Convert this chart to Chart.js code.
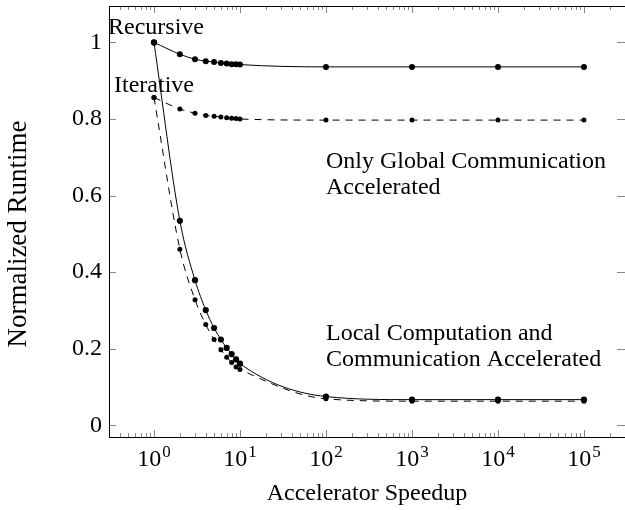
<!DOCTYPE html>
<html><head><meta charset="utf-8">
<script src="https://cdn.jsdelivr.net/npm/chart.js@4"></script>
<style>html,body{margin:0;padding:0;background:#fff}#wrap{width:625px;height:510px;position:relative}
#probe{position:absolute;left:-1000px;top:0;font-family:'Liberation Serif';font-size:24px}</style>
</head><body><span id="probe">Recursive 0.8 10</span><div id="wrap"><canvas id="c" width="625" height="510"></canvas></div>
<script>
const speedups = [1, 2, 3, 4, 5, 6, 7, 8, 9, 10, 100, 1000, 10000, 100000];
const recursiveGlobal = [1.0, 0.969, 0.956, 0.951, 0.949, 0.946, 0.945, 0.943, 0.943, 0.942, 0.936, 0.936, 0.936, 0.936];
const iterativeGlobal = [0.856, 0.826, 0.815, 0.809, 0.807, 0.805, 0.803, 0.802, 0.801, 0.800, 0.797, 0.797, 0.797, 0.797];
const recursiveLocal = [1.0, 0.534, 0.379, 0.301, 0.254, 0.224, 0.202, 0.186, 0.172, 0.161, 0.075, 0.067, 0.067, 0.067];
const iterativeLocal = [0.856, 0.460, 0.328, 0.263, 0.224, 0.197, 0.178, 0.164, 0.152, 0.146, 0.069, 0.063, 0.063, 0.063];
const xTickExponents = [0, 1, 2, 3, 4, 5];
const yTickValues = [0, 0.2, 0.4, 0.6, 0.8, 1];
const xTitle = 'Accelerator Speedup';
const yTitle = 'Normalized Runtime';

const FONT = "'Liberation Serif'";
const FS = 24;

function pts(ys) { return speedups.map((x, i) => ({ x: x, y: ys[i] })); }

const decor = {
  id: 'decor',
  afterDraw(chart) {
    const ctx = chart.ctx, a = chart.chartArea;
    const xs = chart.scales.x, ys = chart.scales.y;
    ctx.save();
    ctx.strokeStyle = '#6a6a6a';
    ctx.lineWidth = 0.8;
    ctx.beginPath();
    for (let k = -1; k <= 5; k++) {
      for (let m = 1; m <= 9; m++) {
        const v = m * Math.pow(10, k);
        if (v < xs.min || v > xs.max) continue;
        const px = Math.round(xs.getPixelForValue(v)) + 0.5;
        const len = m === 1 ? 7 : 4;
        ctx.moveTo(px, a.bottom); ctx.lineTo(px, a.bottom - len);
        ctx.moveTo(px, a.top); ctx.lineTo(px, a.top + len);
      }
    }
    yTickValues.forEach(v => {
      const py = Math.round(ys.getPixelForValue(v)) + 0.5;
      ctx.moveTo(a.left, py); ctx.lineTo(a.left + 7, py);
      ctx.moveTo(a.right, py); ctx.lineTo(a.right - 8, py);
    });
    ctx.stroke();
    ctx.strokeStyle = '#000';
    ctx.lineWidth = 1;
    ctx.strokeRect(a.left + 0.5, a.top + 0.5, a.right - a.left, a.bottom - a.top);
    ctx.fillStyle = '#000';
    ctx.textBaseline = 'alphabetic';
    xTickExponents.forEach(e => {
      const px = xs.getPixelForValue(Math.pow(10, e));
      ctx.font = FS + 'px ' + FONT;
      const wb = ctx.measureText('10').width;
      ctx.font = '17px ' + FONT;
      const we = ctx.measureText(String(e)).width;
      const left = px - (wb + we + 1) / 2;
      ctx.font = FS + 'px ' + FONT;
      ctx.textAlign = 'left';
      ctx.fillText('10', left, 466);
      ctx.font = '17px ' + FONT;
      ctx.fillText(String(e), left + wb + 1, 457);
    });
    ctx.font = FS + 'px ' + FONT;
    ctx.textAlign = 'center';
    ctx.fillText(xTitle, (a.left + a.right) / 2, 500);
    ctx.save();
    ctx.font = '27px ' + FONT;
    ctx.translate(26, 234);
    ctx.rotate(-Math.PI / 2);
    ctx.fillText(yTitle, 0, 0);
    ctx.restore();
    ctx.textAlign = 'left';
    ctx.fillText('Recursive', 108, 34);
    ctx.fillText('Iterative', 114, 92);
    ctx.fillText('Only Global Communication', 326, 168);
    ctx.fillText('Accelerated', 326, 194);
    ctx.fillText('Local Computation and', 326, 340);
    ctx.fillText('Communication Accelerated', 326, 366);
    ctx.restore();
  }
};

function ds(data, dashed, r) {
  return {
    data: pts(data),
    borderColor: '#000',
    backgroundColor: '#000',
    borderWidth: 1,
    borderDash: dashed ? [7, 6] : [],
    pointRadius: r,
    pointBorderWidth: 0,
    pointBackgroundColor: '#000',
    cubicInterpolationMode: 'monotone',
    fill: false
  };
}

function zeroPad(s) { s.paddingTop = 0; s.paddingBottom = 0; s.paddingLeft = 0; s.paddingRight = 0; }

function build() {
  new Chart(document.getElementById('c'), {
    type: 'line',
    data: {
      datasets: [
        ds(recursiveGlobal, false, 3),
        ds(iterativeGlobal, true, 2.5),
        ds(recursiveLocal, false, 3.1),
        ds(iterativeLocal, true, 2.5)
      ]
    },
    options: {
      responsive: false,
      animation: false,
      devicePixelRatio: 1,
      layout: { autoPadding: false, padding: { left: 0, right: 0, top: 6, bottom: 0 } },
      plugins: { legend: { display: false }, tooltip: { enabled: false } },
      scales: {
        x: {
          type: 'logarithmic',
          min: Math.pow(10, -0.523),
          max: Math.pow(10, 5.477),
          grid: { display: false, drawTicks: false },
          border: { display: false },
          ticks: { display: false },
          afterFit: s => { s.height = 73; zeroPad(s); }
        },
        y: {
          type: 'linear',
          min: -0.0306,
          max: 1.095,
          grid: { display: false, drawTicks: false },
          border: { display: false },
          afterBuildTicks: s => { s.ticks = yTickValues.map(v => ({ value: v })); },
          ticks: {
            color: '#000',
            padding: 7,
            font: { family: FONT, size: FS },
            callback: v => String(v)
          },
          afterFit: s => { s.width = 109; zeroPad(s); }
        }
      }
    },
    plugins: [decor]
  });
}

if (document.fonts && document.fonts.load) {
  document.fonts.load(FS + "px 'Liberation Serif'").then(build, build);
} else {
  build();
}
</script>
</body></html>
